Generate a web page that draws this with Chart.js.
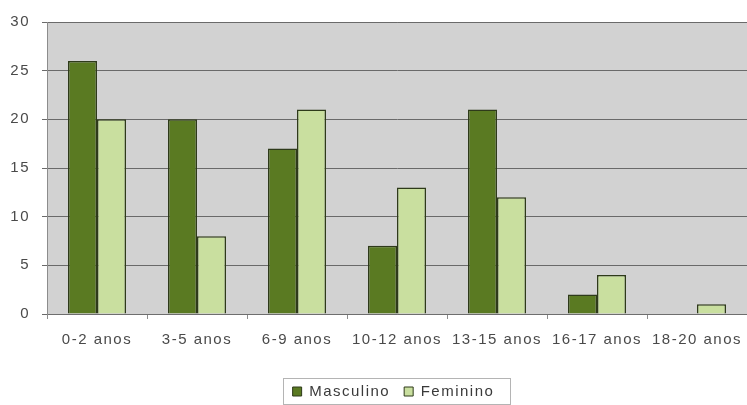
<!DOCTYPE html>
<html>
<head>
<meta charset="utf-8">
<script src="https://cdn.jsdelivr.net/npm/chart.js@4/dist/chart.umd.min.js"></script>
<style>
  html, body { margin: 0; padding: 0; background: #ffffff; }
  #wrap { width: 747px; height: 405px; position: relative; }
</style>
</head>
<body>
<div id="wrap"><canvas id="c" width="747" height="405"></canvas></div>
<script>
const categories = ['0-2 anos', '3-5 anos', '6-9 anos', '10-12 anos', '13-15 anos', '16-17 anos', '18-20 anos'];
const masculino = [26, 20, 17, 7, 21, 2, 0];
const feminino = [20, 8, 21, 13, 12, 4, 1];
const seriesNames = ['Masculino', 'Feminino'];

const FONT = 'Liberation Sans, Arial, sans-serif';
const EDGE = '#2e3a1a';

// Slightly tracked-out text everywhere
const tracking = {
  id: 'tracking',
  beforeInit(chart) { chart.ctx.letterSpacing = '1.5px'; },
  beforeUpdate(chart) { chart.ctx.letterSpacing = '1.5px'; },
  beforeDraw(chart) { chart.ctx.letterSpacing = '1.5px'; }
};

// Gray plot background with a thin top edge
const plotBackground = {
  id: 'plotBackground',
  beforeDraw(chart) {
    const { ctx, chartArea: a } = chart;
    ctx.save();
    ctx.fillStyle = '#d2d2d2';
    ctx.fillRect(a.left, a.top, a.right - a.left, a.bottom - a.top);
    ctx.strokeStyle = '#8c8c8c';
    ctx.lineWidth = 1;
    ctx.beginPath();
    ctx.moveTo(a.left, a.top + 0.5);
    ctx.lineTo(a.right, a.top + 0.5);
    ctx.stroke();
    ctx.restore();
  }
};

// Place the legend block and draw its frame
const legendPlacement = {
  id: 'legendPlacement',
  afterLayout(chart) {
    const l = chart.legend;
    if (!l) return;
    const dx = 20, dy = 4;
    l.left += dx; l.right += dx;
    l.top += dy; l.bottom += dy;
  },
  afterDraw(chart) {
    const { ctx } = chart;
    ctx.save();
    ctx.strokeStyle = '#b4b4b4';
    ctx.lineWidth = 1;
    ctx.strokeRect(283.5, 378.5, 227, 26);
    ctx.restore();
  }
};

new Chart(document.getElementById('c'), {
  type: 'bar',
  data: {
    labels: categories,
    datasets: [
      { label: seriesNames[0], data: masculino, backgroundColor: '#5a7a22', borderColor: EDGE, borderWidth: 1.5 },
      { label: seriesNames[1], data: feminino, backgroundColor: '#c9df9f', borderColor: EDGE, borderWidth: 1.5 }
    ]
  },
  options: {
    responsive: false,
    animation: false,
    devicePixelRatio: 1,
    layout: { padding: { top: 22, right: 0, left: 0, bottom: 0 } },
    datasets: { bar: { categoryPercentage: 0.58, barPercentage: 1.0 } },
    plugins: {
      tooltip: { enabled: false },
      legend: {
        position: 'bottom',
        labels: {
          font: { family: FONT, size: 15 },
          color: '#3a3a3a',
          boxWidth: 9,
          boxHeight: 9,
          padding: 14,
          generateLabels(chart) {
            return chart.data.datasets.map((d, i) => ({
              text: d.label,
              fillStyle: d.backgroundColor,
              strokeStyle: EDGE,
              lineWidth: 1,
              datasetIndex: i,
              hidden: false,
              fontColor: '#3a3a3a'
            }));
          }
        }
      }
    },
    scales: {
      x: {
        grid: { display: true, drawOnChartArea: false, offset: true, tickLength: 5, color: '#8c8c8c' },
        border: { display: true, color: '#6e6e6e' },
        ticks: {
          font: { family: FONT, size: 15 },
          color: '#4a4a4a',
          maxRotation: 0,
          autoSkip: false,
          padding: 12
        },
        afterFit(scale) {
          scale.height = 52;
          scale.paddingLeft = 0;
          scale.paddingRight = 0;
        }
      },
      y: {
        min: 0,
        max: 30,
        ticks: {
          stepSize: 5,
          font: { family: FONT, size: 15 },
          color: '#4a4a4a',
          padding: 12
        },
        grid: { color: '#6a6a6a', lineWidth: 1, tickLength: 5, drawTicks: true },
        border: { display: true, color: '#8c8c8c' },
        afterFit(scale) { scale.width = 47; }
      }
    }
  },
  plugins: [tracking, plotBackground, legendPlacement]
});
</script>
</body>
</html>
